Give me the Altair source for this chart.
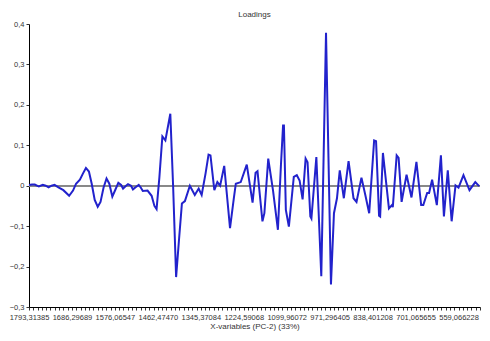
import altair as alt
import pandas as pd

var_index = [0, 1.4, 2.7, 4.6, 6.4, 7.8, 9.1, 10.5, 11.9, 13.7, 16.0, 18.7, 20.5, 21.9, 23.7,
             25.1, 26.5, 27.9, 29.2, 30.6, 32.0, 33.3, 34.7, 36.1, 37.4, 38.8, 40.2, 41.6, 42.9,
             43.8, 45.2, 46.1, 47.5, 48.4, 49.8, 51.1, 52.1, 53.0, 55.2, 57.1, 58.4, 59.4, 60.7,
             62.1, 63.5, 65.8, 67.1, 68.5, 69.9, 71.2, 72.6, 74.9, 77.2, 79.0, 80.4, 82.2, 83.6,
             84.5, 86.3, 87.7, 89.0, 90.9, 93.6, 95.4, 96.3, 98.6, 101.4, 104.1, 105.5, 106.4,
             108.7, 109.6, 111.4, 113.6, 115.9, 117.3, 118.3, 118.7, 119.6, 121.0, 123.3, 124.7,
             126.0, 127.4, 128.8, 129.7, 131.0, 131.5, 133.8, 136.1, 138.3, 140.6, 142.0, 143.4,
             144.7, 146.6, 148.8, 151.1, 152.5, 154.8, 156.6, 158.4, 160.7, 161.6, 163.0, 163.5,
             164.8, 167.6, 169.0, 169.4, 171.2, 172.1, 173.5, 175.8, 178.1, 180.4, 182.6, 183.6,
             185.4, 186.3, 187.7, 189.9, 191.8, 193.2, 195.0, 196.8, 198.6, 200.0, 202.3, 205.1,
             207.8, 209.6]

loading = [0.002, 0.003, 0.003, -0.002, 0.002, 0.0, -0.004, 0.0, 0.002, -0.004, -0.011, -0.025,
           -0.012, 0.005, 0.015, 0.03, 0.044, 0.035, 0.005, -0.035, -0.052, -0.04, -0.005, 0.018,
           0.005, -0.027, -0.01, 0.007, 0.002, -0.007, 0.0, 0.004, 0.0, -0.009, -0.003, 0.002,
           -0.005, -0.013, -0.012, -0.025, -0.05, -0.058, 0.02, 0.122, 0.112, 0.178, 0.0, -0.226,
           -0.13, -0.044, -0.038, 0.0, -0.023, -0.007, -0.023, 0.03, 0.077, 0.075, -0.011, 0.009,
           0.0, 0.049, -0.105, -0.03, 0.005, 0.009, 0.052, -0.042, 0.032, 0.036, -0.088, -0.068,
           0.067, -0.011, -0.109, 0.05, 0.149, 0.149, -0.06, -0.101, 0.022, 0.026, 0.013, -0.034,
           0.067, 0.058, -0.076, -0.081, 0.071, -0.224, 0.378, -0.244, -0.068, -0.031, 0.038,
           -0.031, 0.061, -0.031, -0.04, 0.02, -0.023, -0.068, 0.112, 0.11, -0.074, -0.076, 0.081,
           -0.056, -0.048, -0.053, 0.075, 0.069, -0.04, 0.027, -0.029, 0.059, -0.048, -0.048,
           -0.018, -0.018, 0.015, -0.048, 0.075, -0.076, 0.038, -0.088, 0.001, -0.005, 0.026,
           -0.011, 0.009, -0.001]

x_labels = ["1793,31385", "1686,29689", "1576,06547", "1462,47470", "1345,37084",
            "1224,59068", "1099,96072", "971,296405", "838,401208", "701,065655", "559,066228"]

df = pd.DataFrame({"var": var_index, "loading": loading})

label_arr = "[" + ",".join(f"'{l}'" for l in x_labels) + "]"
x_expr = f"datum.value % 20 === 0 ? {label_arr}[datum.value / 20] : ''"
y_expr = ("abs(round(datum.value * 20)) % 2 === 0 ? "
          "(abs(datum.value) < 1e-9 ? '0' : replace(format(datum.value, '.1f'), '.', ',')) : ''")

x_ticks = list(range(0, 211, 2))
y_ticks = [round(-0.3 + 0.05 * k, 2) for k in range(15)]

font = "Liberation Sans"

line = alt.Chart(df).mark_line(color="#2222cc", strokeWidth=2).encode(
    x=alt.X("var:Q",
            scale=alt.Scale(domain=[0, 210], nice=False, zero=False),
            axis=alt.Axis(values=x_ticks, labelExpr=x_expr, title="X-variables (PC-2) (33%)",
                          grid=False, domainColor="black", tickColor="#333", tickSize=3,
                          labelFontSize=7.5, labelFont=font, labelColor="#333", labelAngle=0,
                          labelOverlap=False, labelPadding=3, labelFlush=False,
                          titleFontSize=8, titleFont=font, titleFontWeight="normal",
                          titleColor="#333", titlePadding=2)),
    y=alt.Y("loading:Q",
            scale=alt.Scale(domain=[-0.3, 0.4], nice=False),
            axis=alt.Axis(values=y_ticks, labelExpr=y_expr, title=None, grid=False,
                          domainColor="black", tickColor="#333", tickSize=3,
                          labelFontSize=7.5, labelFont=font, labelColor="#333",
                          labelPadding=2, labelOverlap=False)),
)

zero = alt.Chart(df).mark_rule(color="#888888", strokeWidth=1).encode(y=alt.datum(0))

chart = alt.layer(zero, line).properties(
    width=451, height=283,
    title=alt.TitleParams("Loadings", fontSize=8, font=font, fontWeight="normal",
                          color="#333", anchor="middle", offset=1),
    autosize=alt.AutoSizeParams(type="none"),
    padding={"left": 21, "top": 16, "right": 2, "bottom": 26},
).configure_view(stroke=None)

chart.save("out.html", embed_options={"renderer": "svg", "actions": False})
